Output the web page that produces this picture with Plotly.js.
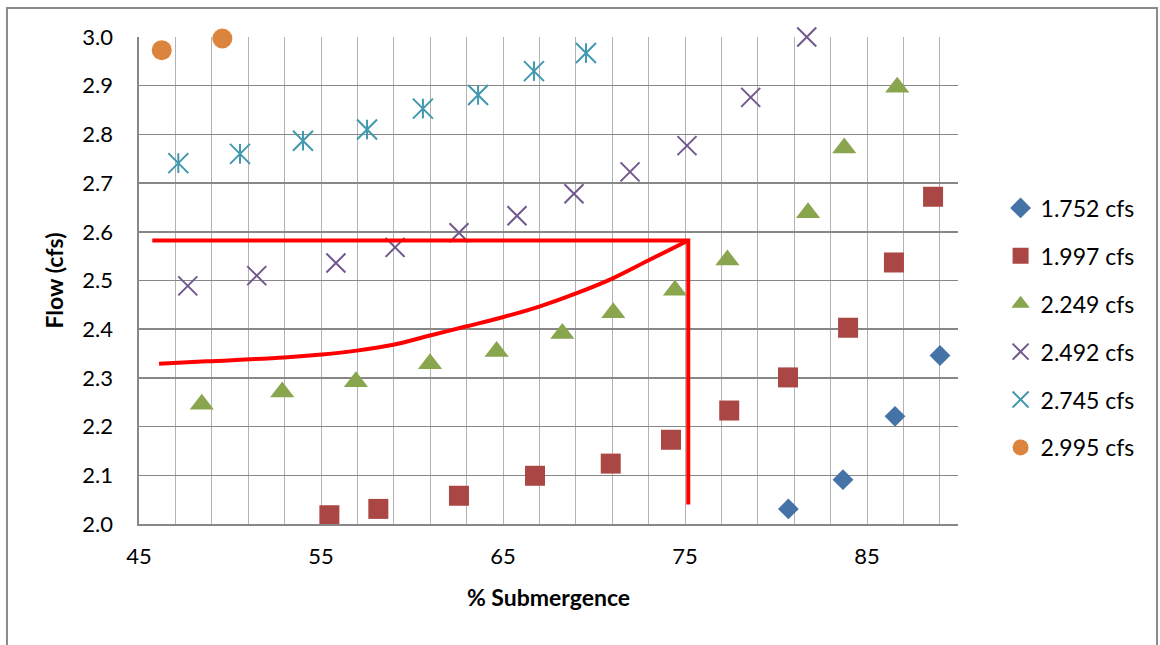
<!DOCTYPE html>
<html>
<head>
<meta charset="utf-8">
<script src="https://cdn.plot.ly/plotly-3.0.1.min.js"></script>
<style>
  html, body { margin: 0; padding: 0; background: #ffffff; }
  #chart { width: 1160px; height: 645px; }
</style>
</head>
<body>
<div id="chart"></div>
<script>
// Flow vs. percent submergence, one series per free-flow rate
const seriesNames = ['1.752 cfs', '1.997 cfs', '2.249 cfs', '2.492 cfs', '2.745 cfs', '2.995 cfs'];

const sub1752  = [80.68, 83.68, 86.54, 89.01];
const flow1752 = [2.031, 2.091, 2.221, 2.346];

const sub1997  = [55.46, 58.15, 62.58, 66.76, 70.92, 74.23, 77.43, 80.66, 83.96, 86.48, 88.63];
const flow1997 = [2.018, 2.031, 2.058, 2.099, 2.124, 2.173, 2.233, 2.301, 2.403, 2.537, 2.672];

const sub2249  = [48.45, 52.87, 56.92, 60.99, 64.65, 68.26, 71.06, 74.45, 77.33, 81.76, 83.75, 86.66];
const flow2249 = [2.246, 2.271, 2.292, 2.329, 2.354, 2.391, 2.434, 2.480, 2.542, 2.639, 2.772, 2.897];

const sub2492  = [47.68, 51.47, 55.82, 59.07, 62.58, 65.77, 68.90, 71.98, 75.11, 78.61, 81.69];
const flow2492 = [2.489, 2.510, 2.536, 2.568, 2.598, 2.633, 2.678, 2.723, 2.777, 2.876, 3.000];

const sub2745  = [47.16, 50.55, 54.01, 57.53, 60.60, 63.63, 66.70, 69.56];
const flow2745 = [2.741, 2.760, 2.787, 2.810, 2.853, 2.881, 2.930, 2.967];

const sub2995  = [46.25, 49.58];
const flow2995 = [2.973, 2.997];

// Red guide curve and the limit lines at 75 % submergence
const curveSub  = [46.10, 48.72, 52.98, 55.04, 56.96, 58.97, 60.99, 63.01, 65.02, 67.03, 69.05, 71.06, 73.08, 75.18];
const curveFlow = [2.329, 2.334, 2.342, 2.348, 2.356, 2.368, 2.387, 2.406, 2.425, 2.447, 2.474, 2.505, 2.543, 2.582];
const limitSub  = [45.73, 75.18, 75.18];
const limitFlow = [2.582, 2.582, 2.040];

const FONT = 'Lato, "Open Sans", sans-serif';
const colors = {
  blue: '#4572A7', red: '#AA4643', green: '#89A54E',
  purple: '#71588F', teal: '#4198AF', orange: '#DB843D'
};

const traces = [
  {
    x: sub1752, y: flow1752, name: seriesNames[0], legendgroup: 'g1',
    type: 'scatter', mode: 'markers', cliponaxis: false,
    marker: { symbol: 'diamond', size: 16, color: colors.blue }
  },
  {
    x: sub1997, y: flow1997, name: seriesNames[1], legendgroup: 'g2',
    type: 'scatter', mode: 'markers', cliponaxis: false,
    marker: { symbol: 'square', size: 20, color: colors.red }
  },
  {
    x: sub2249, y: flow2249, name: seriesNames[2], legendgroup: 'g3',
    type: 'scatter', mode: 'markers', cliponaxis: false,
    marker: { symbol: 'triangle-up', size: 21, color: colors.green }
  },
  {
    x: sub2492, y: flow2492, name: seriesNames[3], legendgroup: 'g4',
    type: 'scatter', mode: 'markers', cliponaxis: false,
    marker: { symbol: 'x-thin', size: 19, color: colors.purple,
              line: { color: colors.purple, width: 2 } }
  },
  {
    x: sub2745, y: flow2745, name: seriesNames[4], legendgroup: 'g5',
    type: 'scatter', mode: 'markers', cliponaxis: false,
    marker: { symbol: 'x-thin', size: 20, color: colors.teal,
              line: { color: colors.teal, width: 2 } }
  },
  {
    // vertical stroke that completes the star marker
    x: sub2745, y: flow2745, name: seriesNames[4], legendgroup: 'g5', showlegend: false,
    type: 'scatter', mode: 'markers', cliponaxis: false, hoverinfo: 'skip',
    marker: { symbol: 'line-ns', size: 14, color: colors.teal,
              line: { color: colors.teal, width: 2 } }
  },
  {
    x: sub2995, y: flow2995, name: seriesNames[5], legendgroup: 'g6',
    type: 'scatter', mode: 'markers', cliponaxis: false,
    marker: { symbol: 'circle', size: 20, color: colors.orange }
  },
  {
    x: curveSub, y: curveFlow, showlegend: false, hoverinfo: 'skip',
    type: 'scatter', mode: 'lines',
    line: { color: '#FF0000', width: 4, shape: 'spline' }
  },
  {
    x: limitSub, y: limitFlow, showlegend: false, hoverinfo: 'skip',
    type: 'scatter', mode: 'lines',
    line: { color: '#FF0000', width: 4 }
  }
];

const layout = {
  width: 1160,
  height: 645,
  margin: { l: 139, r: 202, t: 37, b: 121, pad: 0 },
  paper_bgcolor: '#ffffff',
  plot_bgcolor: '#ffffff',
  font: { family: FONT, size: 22, color: '#000000' },
  showlegend: true,
  legend: {
    x: 1.052, xanchor: 'left',
    y: 0.4025, yanchor: 'middle',
    traceorder: 'grouped',
    tracegroupgap: 15,
    font: { family: FONT, size: 23, color: '#000000' },
    bgcolor: 'rgba(0,0,0,0)'
  },
  xaxis: {
    range: [45, 90],
    tick0: 45, dtick: 10,
    ticks: '',
    showgrid: true, gridcolor: '#B2B2B2', gridwidth: 1,
    minor: { tick0: 45, dtick: 2, showgrid: true, gridcolor: '#B2B2B2', gridwidth: 1, ticks: '' },
    zeroline: false,
    showline: true, linecolor: '#878787', linewidth: 1.6,
    tickfont: { family: FONT, size: 22, color: '#000000' },
    ticklabelstandoff: 12,
    automargin: false,
    title: { text: '<b>% Submergence</b>', font: { family: FONT, size: 23, color: '#000000' }, standoff: 22 }
  },
  yaxis: {
    range: [2.0, 3.0],
    tick0: 2.0, dtick: 0.1, tickformat: '.1f',
    ticks: '',
    showgrid: true, gridcolor: '#878787', gridwidth: 1.5,
    zeroline: false,
    showline: true, linecolor: '#878787', linewidth: 1.6,
    tickfont: { family: FONT, size: 22, color: '#000000' },
    ticklabelstandoff: 20,
    automargin: false,
    title: { text: '<b>Flow (cfs)</b>', font: { family: FONT, size: 23, color: '#000000' }, standoff: 12 }
  },
  shapes: [
    {
      // outer chart frame
      type: 'rect', xref: 'paper', yref: 'paper',
      x0: -0.1612, x1: 1.2430, y0: -0.32, y1: 1.0595,
      line: { color: '#8A8A8A', width: 2 },
      fillcolor: 'rgba(0,0,0,0)',
      layer: 'above'
    }
  ]
};

Plotly.newPlot('chart', traces, layout, { displayModeBar: false, staticPlot: true });
</script>
</body>
</html>
